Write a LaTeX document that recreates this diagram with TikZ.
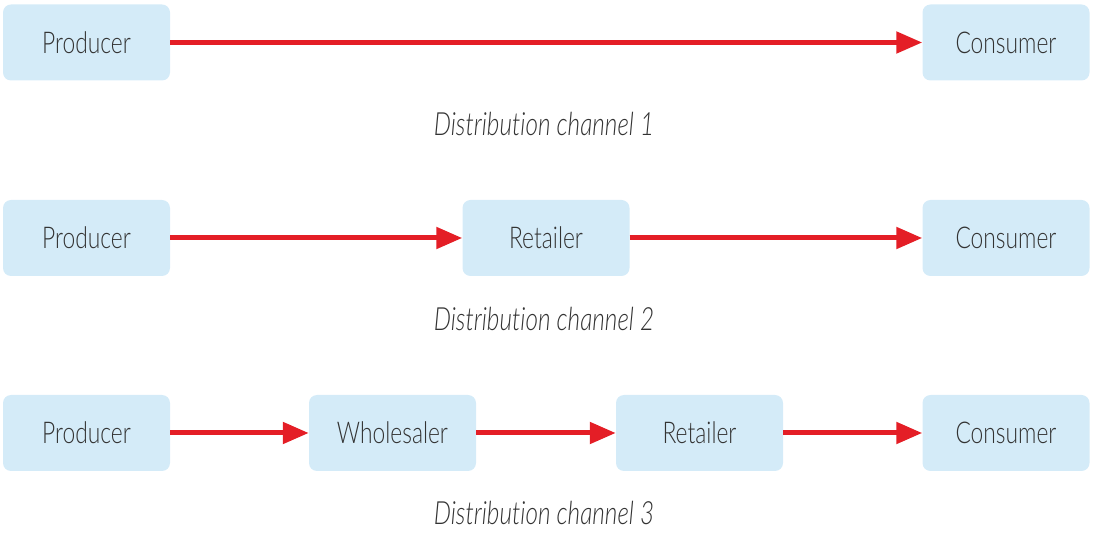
\documentclass[tikz,border=0pt]{standalone}
\usepackage{fontspec}
\setmainfont{Lato}[UprightFont={* Light},ItalicFont={* Light Italic},FakeStretch=0.76,Ligatures=NoCommon]
\usetikzlibrary{arrows.meta}
\definecolor{boxblue}{HTML}{D4EBF8}
\definecolor{arrred}{HTML}{E41E26}
\definecolor{txt}{HTML}{333333}
\tikzset{
  x=1pt,y=-1pt,
  stage/.style={fill=boxblue,draw=none,rounded corners=8pt,minimum width=167pt,minimum height=76pt,inner sep=0pt,text=txt,font=\fontsize{30}{30}\selectfont},
  flow/.style={draw=arrred,line width=5pt,-{Triangle[length=26pt,width=21pt]}},
  chanlabel/.style={text=txt,font=\fontsize{32}{32}\selectfont\itshape}
}
\begin{document}
\begin{tikzpicture}
\useasboundingbox (0,0) rectangle (1096,534);
% row 1
\node[stage] (p1) at (86.5,42.5) {Producer};
\node[stage] (c1) at (1006,42.5) {Consumer};
\draw[flow] (p1.east) -- (c1.west);
\node[chanlabel] (l1) at (544,124) {Distribution channel 1};
% row 2
\node[stage] (p2) at (86.5,238) {Producer};
\node[stage] (r2) at (546,238) {Retailer};
\node[stage] (c2) at (1006,238) {Consumer};
\draw[flow] (p2.east) -- (r2.west);
\draw[flow] (r2.east) -- (c2.west);
\node[chanlabel] (l2) at (544,319) {Distribution channel 2};
% row 3
\node[stage] (p3) at (86.5,433) {Producer};
\node[stage] (w3) at (392.5,433) {Wholesaler};
\node[stage] (r3) at (699.5,433) {Retailer};
\node[stage] (c3) at (1006,433) {Consumer};
\draw[flow] (p3.east) -- (w3.west);
\draw[flow] (w3.east) -- (r3.west);
\draw[flow] (r3.east) -- (c3.west);
\node[chanlabel] (l3) at (544,513) {Distribution channel 3};
\end{tikzpicture}
\end{document}
